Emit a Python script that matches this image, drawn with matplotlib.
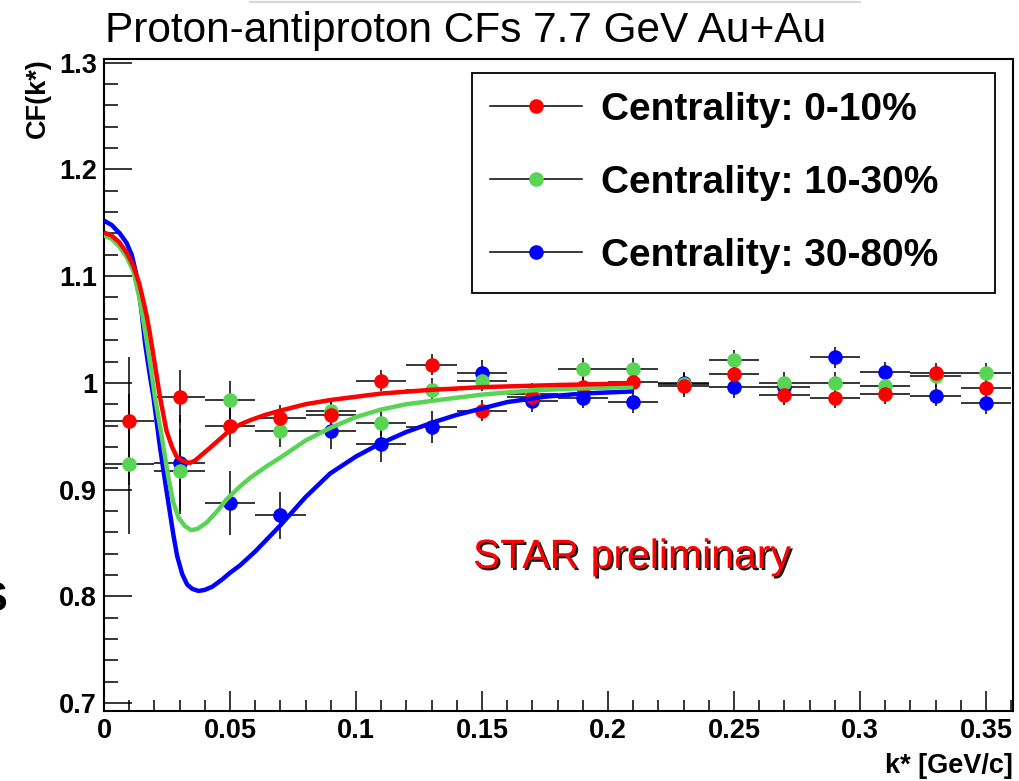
import matplotlib
matplotlib.use('Agg')
import matplotlib.pyplot as plt
import matplotlib.lines as Lines
import matplotlib.patheffects as pe
from matplotlib.patches import Rectangle
from matplotlib.ticker import MultipleLocator
import numpy as np

plt.rcParams['font.family'] = ['Liberation Sans', 'DejaVu Sans']

# k* bin centres [GeV/c]
kstar = [0.01, 0.03, 0.05, 0.07, 0.09, 0.11, 0.13, 0.15, 0.17,
         0.19, 0.21, 0.23, 0.25, 0.27, 0.29, 0.31, 0.33, 0.35]
kstar_err = [0.01] * len(kstar)

# measured CF, centrality 0-10%
cf_0_10 = [0.964, 0.987, 0.960, 0.967, 0.970, 1.002, 1.017, 0.974, 0.987,
           0.996, 1.001, 0.997, 1.008, 0.989, 0.986, 0.990, 1.009, 0.995]
err_0_10 = [0.060, 0.025, 0.020, 0.012, 0.012, 0.010, 0.010, 0.010, 0.010,
            0.010, 0.010, 0.010, 0.010, 0.010, 0.010, 0.010, 0.010, 0.010]

# centrality 10-30%
cf_10_30 = [0.924, 0.917, 0.984, 0.955, 0.974, 0.962, 0.993, 1.002, 0.990,
            1.013, 1.013, 0.999, 1.021, 1.000, 1.000, 0.997, 1.006, 1.009]
err_10_30 = [0.066, 0.040, 0.018, 0.015, 0.012, 0.012, 0.012, 0.010, 0.010,
             0.010, 0.010, 0.010, 0.010, 0.010, 0.010, 0.010, 0.010, 0.010]

# centrality 30-80%
cf_30_80 = [np.nan, 0.925, 0.887, 0.876, 0.955, 0.943, 0.959, 1.009, 0.983,
            0.986, 0.982, 1.000, 0.996, 0.996, 1.024, 1.010, 0.988, 0.981]
err_30_80 = [np.nan, 0.045, 0.030, 0.022, 0.017, 0.017, 0.015, 0.012, 0.010,
             0.010, 0.010, 0.010, 0.010, 0.010, 0.010, 0.010, 0.010, 0.010]

# fitted curves
fit_k_0_10 = [0.000, 0.003, 0.006, 0.009, 0.0116, 0.014, 0.0156, 0.017, 0.018, 0.020,
              0.0222, 0.0248, 0.027, 0.0288, 0.031, 0.034, 0.036, 0.038, 0.042, 0.0487,
              0.054, 0.058, 0.064, 0.070, 0.080, 0.090, 0.100, 0.110, 0.130, 0.150,
              0.180, 0.210]
fit_cf_0_10 = [1.141, 1.138, 1.132, 1.122, 1.110, 1.093, 1.077, 1.062, 1.049, 1.020,
               0.987, 0.955, 0.940, 0.931, 0.927, 0.925, 0.927, 0.931, 0.939, 0.953,
               0.961, 0.965, 0.970, 0.974, 0.980, 0.984, 0.987, 0.990, 0.9935, 0.996,
               0.998, 0.9995]

fit_k_10_30 = [0.000, 0.003, 0.006, 0.009, 0.0116, 0.0143, 0.0169, 0.0189, 0.0202, 0.0229,
               0.0255, 0.0275, 0.0295, 0.032, 0.0345, 0.037, 0.0407, 0.045, 0.0487, 0.054,
               0.058, 0.064, 0.070, 0.080, 0.090, 0.100, 0.110, 0.120, 0.133, 0.150,
               0.170, 0.190, 0.210]
fit_cf_10_30 = [1.138, 1.135, 1.128, 1.118, 1.105, 1.077, 1.040, 1.009, 0.987, 0.950,
                0.912, 0.888, 0.874, 0.866, 0.862, 0.863, 0.869, 0.880, 0.891, 0.903,
                0.911, 0.921, 0.930, 0.946, 0.958, 0.968, 0.975, 0.980, 0.984, 0.989,
                0.993, 0.995, 0.996]

fit_k_30_80 = [0.000, 0.003, 0.0063, 0.009, 0.011, 0.0125, 0.0136, 0.015, 0.0163, 0.018,
               0.0196, 0.0222, 0.0248, 0.0275, 0.029, 0.031, 0.033, 0.035, 0.0375, 0.040,
               0.043, 0.047, 0.050, 0.054, 0.060, 0.0698, 0.080, 0.0897, 0.100, 0.1095,
               0.120, 0.1306, 0.140, 0.150, 0.160, 0.175, 0.190, 0.210]
fit_cf_30_80 = [1.152, 1.148, 1.140, 1.131, 1.120, 1.105, 1.090, 1.065, 1.037, 1.010,
                0.987, 0.940, 0.899, 0.858, 0.838, 0.821, 0.811, 0.807, 0.805, 0.806,
                0.809, 0.816, 0.822, 0.829, 0.842, 0.866, 0.893, 0.915, 0.931, 0.943,
                0.954, 0.963, 0.970, 0.976, 0.982, 0.987, 0.990, 0.992]

labels = ['Centrality: 0-10%', 'Centrality: 10-30%', 'Centrality: 30-80%']
colors = ['#ff0000', '#59d454', '#0000ff']

W, H = 1019, 781
fig = plt.figure(figsize=(W / 100, H / 100), dpi=100)
ax = fig.add_axes([104 / W, 1 - 711 / H, (1013 - 104) / W, (711 - 59) / H])

series = [(cf_0_10, err_0_10), (cf_10_30, err_10_30), (cf_30_80, err_30_80)]
fits = [(fit_k_0_10, fit_cf_0_10), (fit_k_10_30, fit_cf_10_30), (fit_k_30_80, fit_cf_30_80)]

# blue first, red on top
order = [2, 1, 0]
for i in order:
    cf, err = series[i]
    ax.errorbar(kstar, cf, xerr=kstar_err, yerr=err, fmt='none', ecolor='black',
                elinewidth=1.1, capsize=0, zorder=2)
for j, i in enumerate(order):
    cf, err = series[i]
    ax.plot(kstar, cf, 'o', color=colors[i], markersize=10.5, markeredgewidth=0, zorder=3 + j)
for j, i in enumerate(order):
    fk, fcf = fits[i]
    ax.plot(fk, fcf, '-', color=colors[i], lw=3.2, zorder=6 + j,
            solid_capstyle='butt', solid_joinstyle='round')

ax.set_xlim(0, 0.3607)
ax.set_ylim(0.6925, 1.3035)
ax.xaxis.set_minor_locator(MultipleLocator(0.01))
ax.yaxis.set_minor_locator(MultipleLocator(0.02))
ax.set_xticks([0, 0.05, 0.1, 0.15, 0.2, 0.25, 0.3, 0.35])
ax.set_xticklabels(['0', '0.05', '0.1', '0.15', '0.2', '0.25', '0.3', '0.35'])
ax.set_yticks([0.7, 0.8, 0.9, 1.0, 1.1, 1.2, 1.3])
ax.set_yticklabels(['0.7', '0.8', '0.9', '1', '1.1', '1.2', '1.3'])
ax.tick_params(axis='both', which='both', direction='in', top=False, right=False,
               width=1.1, labelsize=19.5)
ax.tick_params(axis='y', which='major', length=20, pad=5)
ax.tick_params(axis='y', which='minor', length=10)
ax.tick_params(axis='x', which='major', length=14.5, pad=5)
ax.tick_params(axis='x', which='minor', length=8)
for lab in ax.get_xticklabels() + ax.get_yticklabels():
    lab.set_fontweight('bold')
for s in ax.spines.values():
    s.set_linewidth(1.5)

# axis titles (ROOT style)
fig.text(38 / W, 1 - 58 / H, 'CF(k*)', rotation=90, ha='center', va='top',
         fontsize=19.5, fontweight='bold')
fig.text(1013 / W, 1 - 766 / H, 'k* [GeV/c]', ha='right', va='center',
         fontsize=19.5, fontweight='bold')

# title
fig.text(105 / W, 1 - 42 / H, 'Proton-antiproton CFs 7.7 GeV Au+Au', ha='left', va='baseline',
         fontsize=30.5)
fig.add_artist(Lines.Line2D([250 / W, 860 / W], [1 - 1.5 / H, 1 - 1.5 / H],
                            color='#d8d8d8', lw=1.5, transform=fig.transFigure))

# cut off letter at the left edge
fig.text(8 / W, 1 - 600 / H, 'S', ha='right', va='center', fontsize=30, fontweight='bold')

# preliminary label
fig.text(632 / W, 1 - 557 / H, 'STAR preliminary', ha='center', va='center', color='#ff0000',
         fontsize=29.5,
         path_effects=[pe.withSimplePatchShadow(offset=(1.5, -1.5), shadow_rgbFace='black', alpha=0.9)])

# legend with separate frame
fig.add_artist(Rectangle((472 / W, 1 - 293 / H), (995 - 472) / W, (293 - 73) / H,
                         transform=fig.transFigure, facecolor='white', edgecolor='black',
                         lw=1.3, zorder=10))
handles = [Lines.Line2D([], [], color='black', lw=1.1, marker='o', markersize=10.5,
                        markerfacecolor=c, markeredgewidth=0) for c in colors]
leg = fig.legend(handles, labels, loc='upper left', bbox_to_anchor=(490 / W, 1 - 92 / H),
                 frameon=False, borderpad=0, borderaxespad=0, handlelength=2.37,
                 handletextpad=0.49, labelspacing=0.95,
                 prop={'size': 28, 'weight': 'bold'})
leg.set_zorder(11)

fig.savefig('out.png', dpi=100)
